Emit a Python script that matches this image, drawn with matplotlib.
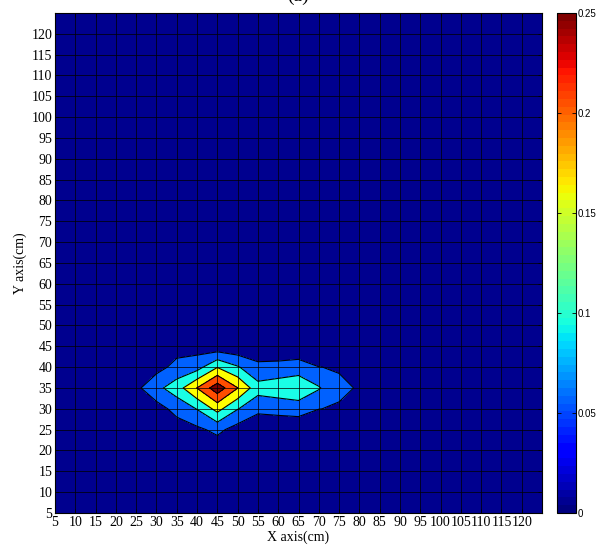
""" Filled contour map of the measured field over the test plane (cm) """

import numpy as np
import matplotlib
matplotlib.use('Agg')
import matplotlib.pyplot as plt
from matplotlib.colors import Normalize
from matplotlib.cm import ScalarMappable


##############################################################################
##                                   Data                                   ##
##############################################################################

# Full measurement grid (every 5 cm on both axes)
x_nodes = np.arange(5, 126, 5)
y_nodes = np.arange(5, 126, 5)

# Region where the field is non-zero
patch_x = [20, 25, 30, 35, 40, 45, 50, 55, 60, 65, 70, 75, 80, 85]
patch_y = [20, 25, 30, 35, 40, 45]
row_y20 = [0, 0, 0, 0, 0, 0.018, 0, 0, 0, 0, 0, 0, 0, 0]
row_y25 = [0, 0, 0, 0.026, 0.040, 0.0625, 0.030, 0, 0, 0, 0, 0, 0, 0]
row_y30 = [0, 0, 0.030, 0.066, 0.102, 0.167, 0.102, 0.066, 0.073, 0.080,
           0.051, 0.045, 0, 0]
row_y35 = [0, 0.0385, 0.0864, 0.1265, 0.201, 0.280, 0.201, 0.119, 0.125,
           0.130, 0.1044, 0.060, 0.046, 0]
row_y40 = [0, 0, 0.033, 0.065, 0.080, 0.148, 0.105, 0.060, 0.0707, 0.080,
           0.051, 0.0457, 0, 0]
row_y45 = [0, 0, 0, 0.030, 0.028, 0.015, 0.0102, 0.0215, 0, 0, 0, 0, 0, 0]

# Contour levels & colour bar range
levels = [0, 0.05, 0.10, 0.15, 0.20, 0.25, 0.30]
cbar_ticks = [0, 0.05, 0.1, 0.15, 0.2, 0.25]
cbar_labels = ['0', '0.05', '0.1', '0.15', '0.2', '0.25']
VMIN, VMAX = 0, 0.25

##############################################################################


# Build the full field
Z = np.zeros((len(y_nodes), len(x_nodes)))
patch = np.array([row_y20, row_y25, row_y30, row_y35, row_y40, row_y45])
ix = np.searchsorted(x_nodes, patch_x)
iy = np.searchsorted(y_nodes, patch_y)
Z[np.ix_(iy, ix)] = patch
X, Y = np.meshgrid(x_nodes, y_nodes)

# MATLAB-like jet with 64 entries for the colour bar
jet = plt.get_cmap('jet', 64)
norm = Normalize(VMIN, VMAX)
# Band colours as seen in the original (jet shades, one per band)
band_colors = [(0.0, 0.0, 0.56), (0.0, 0.38, 1.0), (0.1, 1.0, 0.9),
               (1.0, 1.0, 0.0), (1.0, 0.3, 0.0), (0.5, 0.0, 0.0)]

SERIF = ['Liberation Serif', 'DejaVu Serif']
SANS = ['Liberation Sans', 'DejaVu Sans']

fig = plt.figure(figsize=(5.98, 5.48), dpi=100)
ax = fig.add_axes([0.092, 0.0639, 0.8144, 0.9124])
cax = fig.add_axes([0.9314, 0.0639, 0.0318, 0.9124])

# Filled contours + black iso-lines
ax.contourf(X, Y, Z, levels=levels, colors=band_colors, zorder=0)
ax.contour(X, Y, Z, levels=levels[1:-1], colors='k', linewidths=0.8, zorder=1)

# Axes, ticks & grid
ticks = np.arange(5, 121, 5)
ax.set_xlim(5, 125)
ax.set_ylim(5, 125)
ax.set_xticks(ticks)
ax.set_yticks(ticks)
ax.set_xticklabels([str(t) for t in ticks], family=SERIF, size=10)
ax.set_yticklabels([str(t) for t in ticks], family=SERIF, size=10)
ax.tick_params(direction='in', top=True, right=True, length=3, width=0.6,
               pad=2)
ax.set_axisbelow(False)
ax.grid(True, color='k', linewidth=0.6, alpha=0.85)
for sp in ax.spines.values():
    sp.set_linewidth(0.8)

ax.set_xlabel('X axis(cm)', family=SERIF, size=10, labelpad=1)
ax.set_ylabel('Y axis(cm)', family=SERIF, size=10, labelpad=3)

# Title, mostly above the canvas as in the original
fig.text(0.499, 0.999, '(a)', family=SERIF, size=14, ha='center',
         va='baseline')

# Colour bar
cb = fig.colorbar(ScalarMappable(norm=norm, cmap=jet), cax=cax)
cb.set_ticks(cbar_ticks)
cb.set_ticklabels(cbar_labels)
cb.outline.set_linewidth(0.8)
cax.tick_params(direction='in', left=True, right=True, length=3, width=0.6,
                labelsize=7, pad=1)
for lab in cax.get_yticklabels():
    lab.set_family(SANS)

fig.savefig('out.png', dpi=100)
